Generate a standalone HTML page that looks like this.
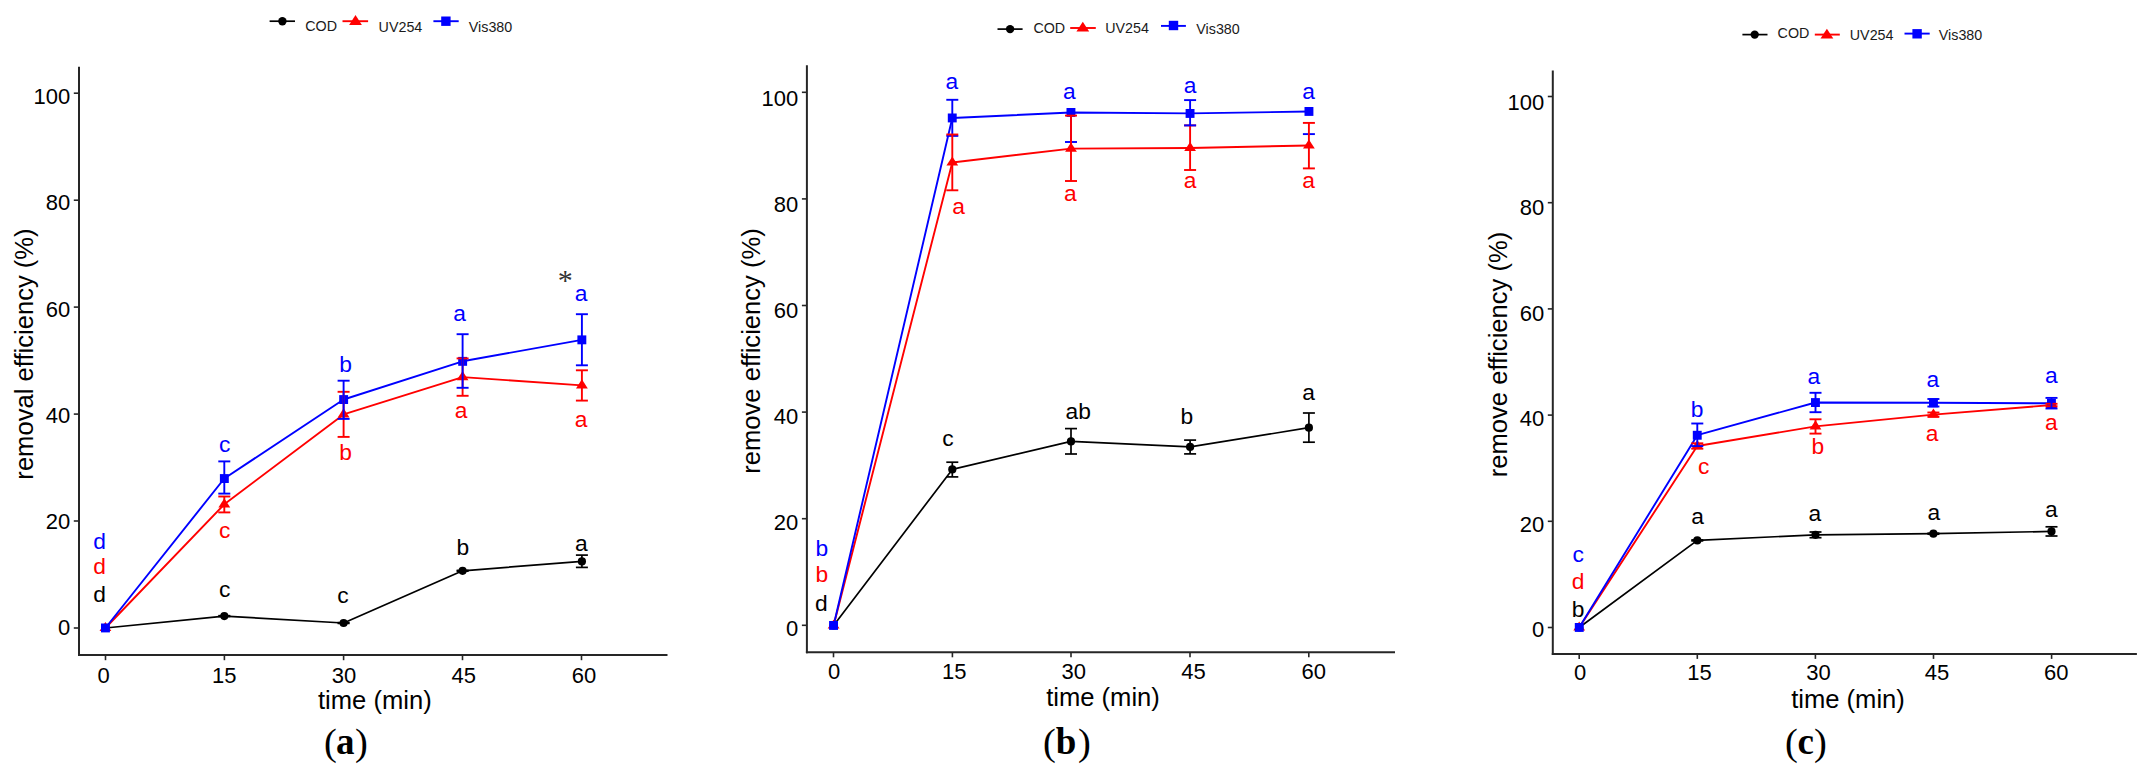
<!DOCTYPE html>
<html lang="en"><head><meta charset="utf-8"><title>Removal efficiency over time</title>
<style>
html,body{margin:0;padding:0;background:#fff;}
body{width:2146px;height:771px;overflow:hidden;}
svg{display:block;}
svg text{font-family:"Liberation Sans",Arial,sans-serif;}
</style></head><body>
<svg width="2146" height="771" viewBox="0 0 2146 771">
<rect width="2146" height="771" fill="#fff"/>
<line x1="79.0" y1="66.7" x2="79.0" y2="656.0" stroke="#262626" stroke-width="2.0"/>
<line x1="78.0" y1="655.0" x2="667.5" y2="655.0" stroke="#262626" stroke-width="2.0"/>
<line x1="73.8" y1="93.2" x2="79.0" y2="93.2" stroke="#262626" stroke-width="1.6"/>
<text x="70.3" y="104.2" font-size="22" fill="#000" text-anchor="end">100</text>
<line x1="73.8" y1="200.2" x2="79.0" y2="200.2" stroke="#262626" stroke-width="1.6"/>
<text x="70.3" y="210.4" font-size="22" fill="#000" text-anchor="end">80</text>
<line x1="73.8" y1="307.1" x2="79.0" y2="307.1" stroke="#262626" stroke-width="1.6"/>
<text x="70.3" y="316.6" font-size="22" fill="#000" text-anchor="end">60</text>
<line x1="73.8" y1="414.1" x2="79.0" y2="414.1" stroke="#262626" stroke-width="1.6"/>
<text x="70.3" y="422.8" font-size="22" fill="#000" text-anchor="end">40</text>
<line x1="73.8" y1="521.0" x2="79.0" y2="521.0" stroke="#262626" stroke-width="1.6"/>
<text x="70.3" y="529.0" font-size="22" fill="#000" text-anchor="end">20</text>
<line x1="73.8" y1="628.0" x2="79.0" y2="628.0" stroke="#262626" stroke-width="1.6"/>
<text x="70.3" y="635.2" font-size="22" fill="#000" text-anchor="end">0</text>
<line x1="105.5" y1="655.0" x2="105.5" y2="660.2" stroke="#262626" stroke-width="1.6"/>
<text x="103.5" y="682.8" font-size="22" fill="#000" text-anchor="middle">0</text>
<line x1="224.4" y1="655.0" x2="224.4" y2="660.2" stroke="#262626" stroke-width="1.6"/>
<text x="224.3" y="682.8" font-size="22" fill="#000" text-anchor="middle">15</text>
<line x1="343.6" y1="655.0" x2="343.6" y2="660.2" stroke="#262626" stroke-width="1.6"/>
<text x="343.9" y="682.8" font-size="22" fill="#000" text-anchor="middle">30</text>
<line x1="462.5" y1="655.0" x2="462.5" y2="660.2" stroke="#262626" stroke-width="1.6"/>
<text x="463.8" y="682.8" font-size="22" fill="#000" text-anchor="middle">45</text>
<line x1="581.5" y1="655.0" x2="581.5" y2="660.2" stroke="#262626" stroke-width="1.6"/>
<text x="583.9" y="682.8" font-size="22" fill="#000" text-anchor="middle">60</text>
<text x="374.8" y="708.9" font-size="25.6" fill="#000" text-anchor="middle">time (min)</text>
<text x="0.0" y="0.0" font-size="25.6" fill="#000" text-anchor="middle" transform="translate(32.6,354.0) rotate(-90)">removal efficiency (%)</text>
<text y="754.0" fill="#000" style="font-family:'Liberation Serif',serif"><tspan x="324.0" dy="1.2" font-size="38.5">(</tspan><tspan x="336.0" dy="-1.2" font-size="37" font-weight="bold">a</tspan><tspan x="355.0" dy="1.2" font-size="38.5">)</tspan></text>
<line x1="269.6" y1="21.2" x2="295.0" y2="21.2" stroke="#000000" stroke-width="1.7"/>
<circle cx="282.4" cy="21.2" r="4.2" fill="#000000"/>
<text x="305.2" y="30.8" font-size="14.3" fill="#1a1a1a" text-anchor="start">COD</text>
<line x1="342.5" y1="21.2" x2="368.1" y2="21.2" stroke="#ff0000" stroke-width="1.9"/>
<polygon points="355.5,15.0 361.9,24.9 349.1,24.9" fill="#ff0000"/>
<text x="378.6" y="32.4" font-size="14.3" fill="#1a1a1a" text-anchor="start">UV254</text>
<line x1="433.4" y1="21.2" x2="458.7" y2="21.2" stroke="#0000ff" stroke-width="1.9"/>
<rect x="441.2" y="16.5" width="9.4" height="9.4" fill="#0000ff"/>
<text x="468.8" y="32.4" font-size="14.3" fill="#1a1a1a" text-anchor="start">Vis380</text>
<polyline points="105.4,628.0 224.3,616.1 343.6,623.0 462.6,570.8 581.9,561.4" fill="none" stroke="#000000" stroke-width="1.7" stroke-linejoin="round"/>
<polyline points="105.4,628.0 224.3,504.3 343.6,414.4 462.6,377.1 581.9,385.4" fill="none" stroke="#ff0000" stroke-width="1.9" stroke-linejoin="round"/>
<polyline points="105.4,628.0 224.3,478.5 343.6,399.5 462.6,361.3 581.9,339.9" fill="none" stroke="#0000ff" stroke-width="1.9" stroke-linejoin="round"/>
<circle cx="105.4" cy="628.0" r="4.1" fill="#000000"/>
<circle cx="224.3" cy="616.1" r="4.1" fill="#000000"/>
<circle cx="343.6" cy="623.0" r="4.1" fill="#000000"/>
<circle cx="462.6" cy="570.8" r="4.1" fill="#000000"/>
<circle cx="581.9" cy="561.4" r="4.1" fill="#000000"/>
<polygon points="105.4,621.9 111.3,631.0 99.5,631.0" fill="#ff0000"/>
<polygon points="224.3,498.2 230.2,507.4 218.4,507.4" fill="#ff0000"/>
<polygon points="343.6,408.3 349.5,417.4 337.7,417.4" fill="#ff0000"/>
<polygon points="462.6,371.0 468.5,380.2 456.7,380.2" fill="#ff0000"/>
<polygon points="581.9,379.3 587.8,388.4 576.0,388.4" fill="#ff0000"/>
<rect x="101.0" y="623.5" width="8.9" height="8.9" fill="#0000ff"/>
<rect x="219.9" y="474.1" width="8.9" height="8.9" fill="#0000ff"/>
<rect x="339.2" y="395.1" width="8.9" height="8.9" fill="#0000ff"/>
<rect x="458.2" y="356.9" width="8.9" height="8.9" fill="#0000ff"/>
<rect x="577.4" y="335.4" width="8.9" height="8.9" fill="#0000ff"/>
<line x1="581.9" y1="555.1" x2="581.9" y2="567.4" stroke="#000000" stroke-width="1.7"/>
<line x1="575.9" y1="555.1" x2="587.9" y2="555.1" stroke="#000000" stroke-width="1.7"/>
<line x1="575.9" y1="567.4" x2="587.9" y2="567.4" stroke="#000000" stroke-width="1.7"/>
<line x1="224.3" y1="615.7" x2="224.3" y2="616.5" stroke="#000000" stroke-width="1.7"/>
<line x1="218.3" y1="615.7" x2="230.3" y2="615.7" stroke="#000000" stroke-width="1.7"/>
<line x1="218.3" y1="616.5" x2="230.3" y2="616.5" stroke="#000000" stroke-width="1.7"/>
<line x1="343.6" y1="622.6" x2="343.6" y2="623.4" stroke="#000000" stroke-width="1.7"/>
<line x1="337.6" y1="622.6" x2="349.6" y2="622.6" stroke="#000000" stroke-width="1.7"/>
<line x1="337.6" y1="623.4" x2="349.6" y2="623.4" stroke="#000000" stroke-width="1.7"/>
<line x1="462.6" y1="570.4" x2="462.6" y2="571.2" stroke="#000000" stroke-width="1.7"/>
<line x1="456.6" y1="570.4" x2="468.6" y2="570.4" stroke="#000000" stroke-width="1.7"/>
<line x1="456.6" y1="571.2" x2="468.6" y2="571.2" stroke="#000000" stroke-width="1.7"/>
<line x1="224.3" y1="496.5" x2="224.3" y2="512.4" stroke="#ff0000" stroke-width="1.9"/>
<line x1="218.3" y1="496.5" x2="230.3" y2="496.5" stroke="#ff0000" stroke-width="1.9"/>
<line x1="218.3" y1="512.4" x2="230.3" y2="512.4" stroke="#ff0000" stroke-width="1.9"/>
<line x1="343.6" y1="391.8" x2="343.6" y2="436.9" stroke="#ff0000" stroke-width="1.9"/>
<line x1="337.6" y1="391.8" x2="349.6" y2="391.8" stroke="#ff0000" stroke-width="1.9"/>
<line x1="337.6" y1="436.9" x2="349.6" y2="436.9" stroke="#ff0000" stroke-width="1.9"/>
<line x1="462.6" y1="358.4" x2="462.6" y2="395.8" stroke="#ff0000" stroke-width="1.9"/>
<line x1="456.6" y1="358.4" x2="468.6" y2="358.4" stroke="#ff0000" stroke-width="1.9"/>
<line x1="456.6" y1="395.8" x2="468.6" y2="395.8" stroke="#ff0000" stroke-width="1.9"/>
<line x1="581.9" y1="370.3" x2="581.9" y2="400.6" stroke="#ff0000" stroke-width="1.9"/>
<line x1="575.9" y1="370.3" x2="587.9" y2="370.3" stroke="#ff0000" stroke-width="1.9"/>
<line x1="575.9" y1="400.6" x2="587.9" y2="400.6" stroke="#ff0000" stroke-width="1.9"/>
<line x1="224.3" y1="461.4" x2="224.3" y2="493.6" stroke="#0000ff" stroke-width="1.9"/>
<line x1="218.3" y1="461.4" x2="230.3" y2="461.4" stroke="#0000ff" stroke-width="1.9"/>
<line x1="218.3" y1="493.6" x2="230.3" y2="493.6" stroke="#0000ff" stroke-width="1.9"/>
<line x1="343.6" y1="380.7" x2="343.6" y2="418.9" stroke="#0000ff" stroke-width="1.9"/>
<line x1="337.6" y1="380.7" x2="349.6" y2="380.7" stroke="#0000ff" stroke-width="1.9"/>
<line x1="337.6" y1="418.9" x2="349.6" y2="418.9" stroke="#0000ff" stroke-width="1.9"/>
<line x1="462.6" y1="334.2" x2="462.6" y2="387.8" stroke="#0000ff" stroke-width="1.9"/>
<line x1="456.6" y1="334.2" x2="468.6" y2="334.2" stroke="#0000ff" stroke-width="1.9"/>
<line x1="456.6" y1="387.8" x2="468.6" y2="387.8" stroke="#0000ff" stroke-width="1.9"/>
<line x1="581.9" y1="314.2" x2="581.9" y2="365.3" stroke="#0000ff" stroke-width="1.9"/>
<line x1="575.9" y1="314.2" x2="587.9" y2="314.2" stroke="#0000ff" stroke-width="1.9"/>
<line x1="575.9" y1="365.3" x2="587.9" y2="365.3" stroke="#0000ff" stroke-width="1.9"/>
<text x="99.5" y="549.2" font-size="22.8" fill="#0000ff" text-anchor="middle">d</text>
<text x="99.5" y="574.0" font-size="22.8" fill="#ff0000" text-anchor="middle">d</text>
<text x="99.5" y="602.4" font-size="22.8" fill="#000000" text-anchor="middle">d</text>
<text x="224.7" y="451.7" font-size="22.8" fill="#0000ff" text-anchor="middle">c</text>
<text x="224.7" y="538.3" font-size="22.8" fill="#ff0000" text-anchor="middle">c</text>
<text x="224.7" y="597.4" font-size="22.8" fill="#000000" text-anchor="middle">c</text>
<text x="345.6" y="371.9" font-size="22.8" fill="#0000ff" text-anchor="middle">b</text>
<text x="345.6" y="460.4" font-size="22.8" fill="#ff0000" text-anchor="middle">b</text>
<text x="343.0" y="602.7" font-size="22.8" fill="#000000" text-anchor="middle">c</text>
<text x="459.6" y="320.5" font-size="22.8" fill="#0000ff" text-anchor="middle">a</text>
<text x="461.2" y="418.4" font-size="22.8" fill="#ff0000" text-anchor="middle">a</text>
<text x="462.8" y="555.4" font-size="22.8" fill="#000000" text-anchor="middle">b</text>
<text x="581.0" y="300.5" font-size="22.8" fill="#0000ff" text-anchor="middle">a</text>
<text x="581.0" y="426.9" font-size="22.8" fill="#ff0000" text-anchor="middle">a</text>
<text x="581.3" y="551.4" font-size="22.8" fill="#000000" text-anchor="middle">a</text>
<text x="565.3" y="289.6" font-size="30" fill="#333" text-anchor="middle" style="font-family:'Liberation Serif',serif">*</text>
<line x1="806.9" y1="65.3" x2="806.9" y2="653.3" stroke="#262626" stroke-width="2.0"/>
<line x1="805.9" y1="652.3" x2="1395.0" y2="652.3" stroke="#262626" stroke-width="2.0"/>
<line x1="801.9" y1="92.3" x2="806.9" y2="92.3" stroke="#262626" stroke-width="1.6"/>
<text x="798.3" y="106.4" font-size="22" fill="#000" text-anchor="end">100</text>
<line x1="801.9" y1="198.9" x2="806.9" y2="198.9" stroke="#262626" stroke-width="1.6"/>
<text x="798.3" y="212.4" font-size="22" fill="#000" text-anchor="end">80</text>
<line x1="801.9" y1="305.5" x2="806.9" y2="305.5" stroke="#262626" stroke-width="1.6"/>
<text x="798.3" y="318.4" font-size="22" fill="#000" text-anchor="end">60</text>
<line x1="801.9" y1="412.1" x2="806.9" y2="412.1" stroke="#262626" stroke-width="1.6"/>
<text x="798.3" y="424.3" font-size="22" fill="#000" text-anchor="end">40</text>
<line x1="801.9" y1="518.7" x2="806.9" y2="518.7" stroke="#262626" stroke-width="1.6"/>
<text x="798.3" y="530.3" font-size="22" fill="#000" text-anchor="end">20</text>
<line x1="801.9" y1="625.3" x2="806.9" y2="625.3" stroke="#262626" stroke-width="1.6"/>
<text x="798.3" y="636.3" font-size="22" fill="#000" text-anchor="end">0</text>
<line x1="833.5" y1="652.3" x2="833.5" y2="657.3" stroke="#262626" stroke-width="1.6"/>
<text x="834.1" y="679.2" font-size="22" fill="#000" text-anchor="middle">0</text>
<line x1="952.4" y1="652.3" x2="952.4" y2="657.3" stroke="#262626" stroke-width="1.6"/>
<text x="954.3" y="679.2" font-size="22" fill="#000" text-anchor="middle">15</text>
<line x1="1071.0" y1="652.3" x2="1071.0" y2="657.3" stroke="#262626" stroke-width="1.6"/>
<text x="1073.8" y="679.2" font-size="22" fill="#000" text-anchor="middle">30</text>
<line x1="1190.0" y1="652.3" x2="1190.0" y2="657.3" stroke="#262626" stroke-width="1.6"/>
<text x="1193.4" y="679.2" font-size="22" fill="#000" text-anchor="middle">45</text>
<line x1="1308.8" y1="652.3" x2="1308.8" y2="657.3" stroke="#262626" stroke-width="1.6"/>
<text x="1313.7" y="679.2" font-size="22" fill="#000" text-anchor="middle">60</text>
<text x="1103.0" y="706.2" font-size="25.6" fill="#000" text-anchor="middle">time (min)</text>
<text x="0.0" y="0.0" font-size="25.6" fill="#000" text-anchor="middle" transform="translate(760.0,351.0) rotate(-90)">remove efficiency (%)</text>
<text y="753.8" fill="#000" style="font-family:'Liberation Serif',serif"><tspan x="1043.0" dy="1.2" font-size="38.5">(</tspan><tspan x="1055.8" dy="-1.2" font-size="37" font-weight="bold">b</tspan><tspan x="1078.0" dy="1.2" font-size="38.5">)</tspan></text>
<line x1="997.5" y1="29.1" x2="1022.6" y2="29.1" stroke="#000000" stroke-width="1.7"/>
<circle cx="1010.1" cy="29.1" r="4.2" fill="#000000"/>
<text x="1033.4" y="32.9" font-size="14.3" fill="#1a1a1a" text-anchor="start">COD</text>
<line x1="1070.2" y1="28.0" x2="1095.8" y2="28.0" stroke="#ff0000" stroke-width="1.9"/>
<polygon points="1082.8,21.7 1089.2,31.6 1076.4,31.6" fill="#ff0000"/>
<text x="1105.2" y="33.1" font-size="14.3" fill="#1a1a1a" text-anchor="start">UV254</text>
<line x1="1161.0" y1="25.9" x2="1185.9" y2="25.9" stroke="#0000ff" stroke-width="1.9"/>
<rect x="1168.8" y="20.8" width="9.4" height="9.4" fill="#0000ff"/>
<text x="1196.3" y="33.6" font-size="14.3" fill="#1a1a1a" text-anchor="start">Vis380</text>
<polyline points="833.6,625.5 952.3,469.4 1071.0,441.4 1190.1,446.9 1308.9,427.7" fill="none" stroke="#000000" stroke-width="1.7" stroke-linejoin="round"/>
<polyline points="833.6,625.5 952.3,162.5 1071.0,148.6 1190.1,148.0 1308.9,145.5" fill="none" stroke="#ff0000" stroke-width="1.9" stroke-linejoin="round"/>
<polyline points="833.6,625.5 952.3,118.0 1071.0,112.5 1190.1,113.4 1308.9,111.5" fill="none" stroke="#0000ff" stroke-width="1.9" stroke-linejoin="round"/>
<circle cx="833.6" cy="625.5" r="4.1" fill="#000000"/>
<circle cx="952.3" cy="469.4" r="4.1" fill="#000000"/>
<circle cx="1071.0" cy="441.4" r="4.1" fill="#000000"/>
<circle cx="1190.1" cy="446.9" r="4.1" fill="#000000"/>
<circle cx="1308.9" cy="427.7" r="4.1" fill="#000000"/>
<polygon points="833.6,619.4 839.5,628.5 827.7,628.5" fill="#ff0000"/>
<polygon points="952.3,156.4 958.2,165.6 946.4,165.6" fill="#ff0000"/>
<polygon points="1071.0,142.5 1076.9,151.7 1065.1,151.7" fill="#ff0000"/>
<polygon points="1190.1,141.9 1196.0,151.1 1184.2,151.1" fill="#ff0000"/>
<polygon points="1308.9,139.4 1314.8,148.6 1303.0,148.6" fill="#ff0000"/>
<rect x="829.1" y="621.0" width="8.9" height="8.9" fill="#0000ff"/>
<rect x="947.8" y="113.5" width="8.9" height="8.9" fill="#0000ff"/>
<rect x="1066.5" y="108.0" width="8.9" height="8.9" fill="#0000ff"/>
<rect x="1185.6" y="109.0" width="8.9" height="8.9" fill="#0000ff"/>
<rect x="1304.5" y="107.0" width="8.9" height="8.9" fill="#0000ff"/>
<line x1="952.3" y1="462.2" x2="952.3" y2="476.9" stroke="#000000" stroke-width="1.7"/>
<line x1="946.3" y1="462.2" x2="958.3" y2="462.2" stroke="#000000" stroke-width="1.7"/>
<line x1="946.3" y1="476.9" x2="958.3" y2="476.9" stroke="#000000" stroke-width="1.7"/>
<line x1="1071.0" y1="428.6" x2="1071.0" y2="454.0" stroke="#000000" stroke-width="1.7"/>
<line x1="1065.0" y1="428.6" x2="1077.0" y2="428.6" stroke="#000000" stroke-width="1.7"/>
<line x1="1065.0" y1="454.0" x2="1077.0" y2="454.0" stroke="#000000" stroke-width="1.7"/>
<line x1="1190.1" y1="440.1" x2="1190.1" y2="453.9" stroke="#000000" stroke-width="1.7"/>
<line x1="1184.1" y1="440.1" x2="1196.1" y2="440.1" stroke="#000000" stroke-width="1.7"/>
<line x1="1184.1" y1="453.9" x2="1196.1" y2="453.9" stroke="#000000" stroke-width="1.7"/>
<line x1="1308.9" y1="413.0" x2="1308.9" y2="442.2" stroke="#000000" stroke-width="1.7"/>
<line x1="1302.9" y1="413.0" x2="1314.9" y2="413.0" stroke="#000000" stroke-width="1.7"/>
<line x1="1302.9" y1="442.2" x2="1314.9" y2="442.2" stroke="#000000" stroke-width="1.7"/>
<line x1="1190.1" y1="125.4" x2="1190.1" y2="170.0" stroke="#ff0000" stroke-width="1.9"/>
<line x1="1184.1" y1="125.4" x2="1196.1" y2="125.4" stroke="#ff0000" stroke-width="1.9"/>
<line x1="1184.1" y1="170.0" x2="1196.1" y2="170.0" stroke="#ff0000" stroke-width="1.9"/>
<line x1="952.3" y1="99.8" x2="952.3" y2="135.9" stroke="#0000ff" stroke-width="1.9"/>
<line x1="946.3" y1="99.8" x2="958.3" y2="99.8" stroke="#0000ff" stroke-width="1.9"/>
<line x1="946.3" y1="135.9" x2="958.3" y2="135.9" stroke="#0000ff" stroke-width="1.9"/>
<line x1="1071.0" y1="112.5" x2="1071.0" y2="142.0" stroke="#0000ff" stroke-width="1.9"/>
<line x1="1065.0" y1="142.0" x2="1077.0" y2="142.0" stroke="#0000ff" stroke-width="1.9"/>
<line x1="1190.1" y1="100.1" x2="1190.1" y2="125.4" stroke="#0000ff" stroke-width="1.9"/>
<line x1="1184.1" y1="100.1" x2="1196.1" y2="100.1" stroke="#0000ff" stroke-width="1.9"/>
<line x1="1184.1" y1="125.4" x2="1196.1" y2="125.4" stroke="#0000ff" stroke-width="1.9"/>
<line x1="1302.9" y1="134.1" x2="1314.9" y2="134.1" stroke="#0000ff" stroke-width="1.9"/>
<line x1="952.3" y1="134.5" x2="952.3" y2="190.3" stroke="#ff0000" stroke-width="1.9"/>
<line x1="946.3" y1="134.5" x2="958.3" y2="134.5" stroke="#ff0000" stroke-width="1.9"/>
<line x1="946.3" y1="190.3" x2="958.3" y2="190.3" stroke="#ff0000" stroke-width="1.9"/>
<line x1="1071.0" y1="115.6" x2="1071.0" y2="181.0" stroke="#ff0000" stroke-width="1.9"/>
<line x1="1065.0" y1="115.6" x2="1077.0" y2="115.6" stroke="#ff0000" stroke-width="1.9"/>
<line x1="1065.0" y1="181.0" x2="1077.0" y2="181.0" stroke="#ff0000" stroke-width="1.9"/>
<line x1="1308.9" y1="122.9" x2="1308.9" y2="168.4" stroke="#ff0000" stroke-width="1.9"/>
<line x1="1302.9" y1="122.9" x2="1314.9" y2="122.9" stroke="#ff0000" stroke-width="1.9"/>
<line x1="1302.9" y1="168.4" x2="1314.9" y2="168.4" stroke="#ff0000" stroke-width="1.9"/>
<text x="821.8" y="556.4" font-size="22.8" fill="#0000ff" text-anchor="middle">b</text>
<text x="821.8" y="582.4" font-size="22.8" fill="#ff0000" text-anchor="middle">b</text>
<text x="821.4" y="610.8" font-size="22.8" fill="#000000" text-anchor="middle">d</text>
<text x="951.9" y="88.6" font-size="22.8" fill="#0000ff" text-anchor="middle">a</text>
<text x="958.5" y="213.7" font-size="22.8" fill="#ff0000" text-anchor="middle">a</text>
<text x="948.0" y="446.0" font-size="22.8" fill="#000000" text-anchor="middle">c</text>
<text x="1069.4" y="99.0" font-size="22.8" fill="#0000ff" text-anchor="middle">a</text>
<text x="1070.4" y="201.3" font-size="22.8" fill="#ff0000" text-anchor="middle">a</text>
<text x="1078.3" y="419.1" font-size="22.8" fill="#000000" text-anchor="middle">ab</text>
<text x="1190.2" y="92.8" font-size="22.8" fill="#0000ff" text-anchor="middle">a</text>
<text x="1190.2" y="187.6" font-size="22.8" fill="#ff0000" text-anchor="middle">a</text>
<text x="1186.9" y="423.7" font-size="22.8" fill="#000000" text-anchor="middle">b</text>
<text x="1308.5" y="99.0" font-size="22.8" fill="#0000ff" text-anchor="middle">a</text>
<text x="1308.5" y="187.6" font-size="22.8" fill="#ff0000" text-anchor="middle">a</text>
<text x="1308.5" y="400.3" font-size="22.8" fill="#000000" text-anchor="middle">a</text>
<line x1="1552.8" y1="70.5" x2="1552.8" y2="654.9" stroke="#262626" stroke-width="2.0"/>
<line x1="1551.8" y1="653.9" x2="2136.9" y2="653.9" stroke="#262626" stroke-width="2.0"/>
<line x1="1547.8" y1="96.5" x2="1552.8" y2="96.5" stroke="#262626" stroke-width="1.6"/>
<text x="1544.3" y="109.7" font-size="22" fill="#000" text-anchor="end">100</text>
<line x1="1547.8" y1="202.7" x2="1552.8" y2="202.7" stroke="#262626" stroke-width="1.6"/>
<text x="1544.3" y="215.1" font-size="22" fill="#000" text-anchor="end">80</text>
<line x1="1547.8" y1="308.9" x2="1552.8" y2="308.9" stroke="#262626" stroke-width="1.6"/>
<text x="1544.3" y="320.6" font-size="22" fill="#000" text-anchor="end">60</text>
<line x1="1547.8" y1="415.1" x2="1552.8" y2="415.1" stroke="#262626" stroke-width="1.6"/>
<text x="1544.3" y="426.0" font-size="22" fill="#000" text-anchor="end">40</text>
<line x1="1547.8" y1="521.3" x2="1552.8" y2="521.3" stroke="#262626" stroke-width="1.6"/>
<text x="1544.3" y="531.5" font-size="22" fill="#000" text-anchor="end">20</text>
<line x1="1547.8" y1="627.5" x2="1552.8" y2="627.5" stroke="#262626" stroke-width="1.6"/>
<text x="1544.3" y="636.9" font-size="22" fill="#000" text-anchor="end">0</text>
<line x1="1579.2" y1="653.9" x2="1579.2" y2="658.9" stroke="#262626" stroke-width="1.6"/>
<text x="1580.0" y="679.9" font-size="22" fill="#000" text-anchor="middle">0</text>
<line x1="1697.3" y1="653.9" x2="1697.3" y2="658.9" stroke="#262626" stroke-width="1.6"/>
<text x="1699.5" y="679.9" font-size="22" fill="#000" text-anchor="middle">15</text>
<line x1="1815.4" y1="653.9" x2="1815.4" y2="658.9" stroke="#262626" stroke-width="1.6"/>
<text x="1818.4" y="679.9" font-size="22" fill="#000" text-anchor="middle">30</text>
<line x1="1933.5" y1="653.9" x2="1933.5" y2="658.9" stroke="#262626" stroke-width="1.6"/>
<text x="1937.0" y="679.9" font-size="22" fill="#000" text-anchor="middle">45</text>
<line x1="2051.6" y1="653.9" x2="2051.6" y2="658.9" stroke="#262626" stroke-width="1.6"/>
<text x="2056.2" y="679.9" font-size="22" fill="#000" text-anchor="middle">60</text>
<text x="1848.0" y="708.2" font-size="25.6" fill="#000" text-anchor="middle">time (min)</text>
<text x="0.0" y="0.0" font-size="25.6" fill="#000" text-anchor="middle" transform="translate(1507.0,354.5) rotate(-90)">remove efficiency (%)</text>
<text y="753.8" fill="#000" style="font-family:'Liberation Serif',serif"><tspan x="1785.0" dy="1.2" font-size="38.5">(</tspan><tspan x="1797.5" dy="-1.2" font-size="37" font-weight="bold">c</tspan><tspan x="1814.0" dy="1.2" font-size="38.5">)</tspan></text>
<line x1="1742.4" y1="34.6" x2="1767.5" y2="34.6" stroke="#000000" stroke-width="1.7"/>
<circle cx="1754.7" cy="34.6" r="4.2" fill="#000000"/>
<text x="1777.6" y="38.1" font-size="14.3" fill="#1a1a1a" text-anchor="start">COD</text>
<line x1="1814.8" y1="34.6" x2="1839.8" y2="34.6" stroke="#ff0000" stroke-width="1.9"/>
<polygon points="1826.9,28.7 1833.3,38.6 1820.5,38.6" fill="#ff0000"/>
<text x="1849.8" y="40.0" font-size="14.3" fill="#1a1a1a" text-anchor="start">UV254</text>
<line x1="1904.5" y1="33.6" x2="1929.7" y2="33.6" stroke="#0000ff" stroke-width="1.9"/>
<rect x="1912.4" y="29.1" width="9.4" height="9.4" fill="#0000ff"/>
<text x="1938.8" y="40.0" font-size="14.3" fill="#1a1a1a" text-anchor="start">Vis380</text>
<polyline points="1579.2,627.5 1697.3,540.4 1815.5,534.8 1933.4,533.7 2051.5,531.4" fill="none" stroke="#000000" stroke-width="1.7" stroke-linejoin="round"/>
<polyline points="1579.2,627.5 1697.3,446.0 1815.5,426.4 1933.4,414.6 2051.5,405.0" fill="none" stroke="#ff0000" stroke-width="1.9" stroke-linejoin="round"/>
<polyline points="1579.2,627.5 1697.3,435.2 1815.5,402.5 1933.4,402.8 2051.5,403.3" fill="none" stroke="#0000ff" stroke-width="1.9" stroke-linejoin="round"/>
<circle cx="1579.2" cy="627.5" r="4.1" fill="#000000"/>
<circle cx="1697.3" cy="540.4" r="4.1" fill="#000000"/>
<circle cx="1815.5" cy="534.8" r="4.1" fill="#000000"/>
<circle cx="1933.4" cy="533.7" r="4.1" fill="#000000"/>
<circle cx="2051.5" cy="531.4" r="4.1" fill="#000000"/>
<polygon points="1579.2,621.4 1585.1,630.5 1573.3,630.5" fill="#ff0000"/>
<polygon points="1697.3,439.9 1703.2,449.1 1691.4,449.1" fill="#ff0000"/>
<polygon points="1815.5,420.3 1821.4,429.4 1809.6,429.4" fill="#ff0000"/>
<polygon points="1933.4,408.5 1939.3,417.7 1927.5,417.7" fill="#ff0000"/>
<polygon points="2051.5,398.9 2057.4,408.1 2045.6,408.1" fill="#ff0000"/>
<rect x="1574.8" y="623.0" width="8.9" height="8.9" fill="#0000ff"/>
<rect x="1692.8" y="430.8" width="8.9" height="8.9" fill="#0000ff"/>
<rect x="1811.0" y="398.1" width="8.9" height="8.9" fill="#0000ff"/>
<rect x="1929.0" y="398.4" width="8.9" height="8.9" fill="#0000ff"/>
<rect x="2047.0" y="398.9" width="8.9" height="8.9" fill="#0000ff"/>
<line x1="1815.5" y1="532.0" x2="1815.5" y2="537.7" stroke="#000000" stroke-width="1.7"/>
<line x1="1809.5" y1="532.0" x2="1821.5" y2="532.0" stroke="#000000" stroke-width="1.7"/>
<line x1="1809.5" y1="537.7" x2="1821.5" y2="537.7" stroke="#000000" stroke-width="1.7"/>
<line x1="2051.5" y1="526.8" x2="2051.5" y2="536.0" stroke="#000000" stroke-width="1.7"/>
<line x1="2045.5" y1="526.8" x2="2057.5" y2="526.8" stroke="#000000" stroke-width="1.7"/>
<line x1="2045.5" y1="536.0" x2="2057.5" y2="536.0" stroke="#000000" stroke-width="1.7"/>
<line x1="1697.3" y1="539.9" x2="1697.3" y2="540.9" stroke="#000000" stroke-width="1.7"/>
<line x1="1691.3" y1="539.9" x2="1703.3" y2="539.9" stroke="#000000" stroke-width="1.7"/>
<line x1="1691.3" y1="540.9" x2="1703.3" y2="540.9" stroke="#000000" stroke-width="1.7"/>
<line x1="1933.4" y1="533.2" x2="1933.4" y2="534.2" stroke="#000000" stroke-width="1.7"/>
<line x1="1927.4" y1="533.2" x2="1939.4" y2="533.2" stroke="#000000" stroke-width="1.7"/>
<line x1="1927.4" y1="534.2" x2="1939.4" y2="534.2" stroke="#000000" stroke-width="1.7"/>
<line x1="1697.3" y1="443.3" x2="1697.3" y2="448.7" stroke="#ff0000" stroke-width="1.9"/>
<line x1="1691.3" y1="443.3" x2="1703.3" y2="443.3" stroke="#ff0000" stroke-width="1.9"/>
<line x1="1691.3" y1="448.7" x2="1703.3" y2="448.7" stroke="#ff0000" stroke-width="1.9"/>
<line x1="1815.5" y1="419.3" x2="1815.5" y2="433.6" stroke="#ff0000" stroke-width="1.9"/>
<line x1="1809.5" y1="419.3" x2="1821.5" y2="419.3" stroke="#ff0000" stroke-width="1.9"/>
<line x1="1809.5" y1="433.6" x2="1821.5" y2="433.6" stroke="#ff0000" stroke-width="1.9"/>
<line x1="1933.4" y1="412.5" x2="1933.4" y2="416.6" stroke="#ff0000" stroke-width="1.9"/>
<line x1="1927.4" y1="412.5" x2="1939.4" y2="412.5" stroke="#ff0000" stroke-width="1.9"/>
<line x1="1927.4" y1="416.6" x2="1939.4" y2="416.6" stroke="#ff0000" stroke-width="1.9"/>
<line x1="2051.5" y1="403.8" x2="2051.5" y2="406.2" stroke="#ff0000" stroke-width="1.9"/>
<line x1="2045.5" y1="403.8" x2="2057.5" y2="403.8" stroke="#ff0000" stroke-width="1.9"/>
<line x1="2045.5" y1="406.2" x2="2057.5" y2="406.2" stroke="#ff0000" stroke-width="1.9"/>
<line x1="1697.3" y1="423.5" x2="1697.3" y2="446.1" stroke="#0000ff" stroke-width="1.9"/>
<line x1="1691.3" y1="423.5" x2="1703.3" y2="423.5" stroke="#0000ff" stroke-width="1.9"/>
<line x1="1691.3" y1="446.1" x2="1703.3" y2="446.1" stroke="#0000ff" stroke-width="1.9"/>
<line x1="1815.5" y1="392.8" x2="1815.5" y2="412.2" stroke="#0000ff" stroke-width="1.9"/>
<line x1="1809.5" y1="392.8" x2="1821.5" y2="392.8" stroke="#0000ff" stroke-width="1.9"/>
<line x1="1809.5" y1="412.2" x2="1821.5" y2="412.2" stroke="#0000ff" stroke-width="1.9"/>
<line x1="1933.4" y1="399.0" x2="1933.4" y2="406.5" stroke="#0000ff" stroke-width="1.9"/>
<line x1="1927.4" y1="399.0" x2="1939.4" y2="399.0" stroke="#0000ff" stroke-width="1.9"/>
<line x1="1927.4" y1="406.5" x2="1939.4" y2="406.5" stroke="#0000ff" stroke-width="1.9"/>
<line x1="2051.5" y1="397.9" x2="2051.5" y2="408.5" stroke="#0000ff" stroke-width="1.9"/>
<line x1="2045.5" y1="397.9" x2="2057.5" y2="397.9" stroke="#0000ff" stroke-width="1.9"/>
<line x1="2045.5" y1="408.5" x2="2057.5" y2="408.5" stroke="#0000ff" stroke-width="1.9"/>
<text x="1578.2" y="562.3" font-size="22.8" fill="#0000ff" text-anchor="middle">c</text>
<text x="1578.2" y="589.0" font-size="22.8" fill="#ff0000" text-anchor="middle">d</text>
<text x="1578.2" y="617.3" font-size="22.8" fill="#000000" text-anchor="middle">b</text>
<text x="1697.1" y="417.1" font-size="22.8" fill="#0000ff" text-anchor="middle">b</text>
<text x="1703.6" y="473.9" font-size="22.8" fill="#ff0000" text-anchor="middle">c</text>
<text x="1697.6" y="524.0" font-size="22.8" fill="#000000" text-anchor="middle">a</text>
<text x="1813.9" y="384.2" font-size="22.8" fill="#0000ff" text-anchor="middle">a</text>
<text x="1817.8" y="453.8" font-size="22.8" fill="#ff0000" text-anchor="middle">b</text>
<text x="1814.8" y="520.6" font-size="22.8" fill="#000000" text-anchor="middle">a</text>
<text x="1932.9" y="386.8" font-size="22.8" fill="#0000ff" text-anchor="middle">a</text>
<text x="1932.0" y="441.0" font-size="22.8" fill="#ff0000" text-anchor="middle">a</text>
<text x="1933.8" y="520.3" font-size="22.8" fill="#000000" text-anchor="middle">a</text>
<text x="2051.3" y="383.4" font-size="22.8" fill="#0000ff" text-anchor="middle">a</text>
<text x="2051.3" y="429.9" font-size="22.8" fill="#ff0000" text-anchor="middle">a</text>
<text x="2051.3" y="516.6" font-size="22.8" fill="#000000" text-anchor="middle">a</text>
</svg>
</body></html>
